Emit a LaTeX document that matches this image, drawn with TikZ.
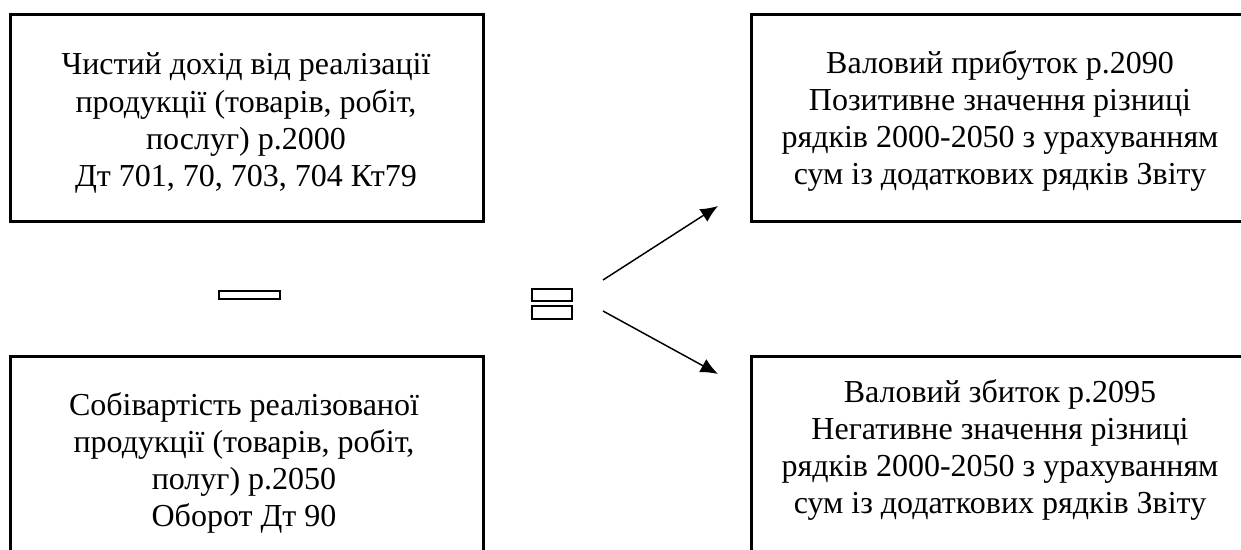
\documentclass[tikz,border=0pt]{standalone}
\usepackage{fontspec}
\setmainfont{Liberation Serif}
\usetikzlibrary{arrows.meta}
\tikzset{
  frame/.style={draw, line width=1.1pt, anchor=north west, inner sep=0pt},
  txt/.style={align=center, inner sep=0pt, font=\fontsize{12}{13.9}\selectfont},
  sign/.style={draw, line width=1pt, inner sep=0pt},
  fork/.style={-{Latex[length=6.5pt,width=5.6pt]}, line width=0.55pt}
}
\begin{document}
\begin{tikzpicture}[x=0.375pt,y=-0.375pt]
\useasboundingbox (0,0) rectangle (1241,550);
\clip (0,0) rectangle (1241,550);

\node [frame, minimum width=177.4pt, minimum height=77.6pt] (revbox) at (9,13) {};
\node [frame, minimum width=177.4pt, minimum height=77.6pt] (costbox) at (9,355) {};
\node [frame, minimum width=187.5pt, minimum height=77.6pt] (gainbox) at (750,13) {};
\node [frame, minimum width=187.5pt, minimum height=77.6pt] (lossbox) at (750,355) {};

\node [txt] (rev) at (246,123) {Чистий дохід від реалізації\\продукції (товарів, робіт,\\послуг) р.2000\\Дт 701, 70, 703, 704 Кт79};
\node [txt] (cost) at (244,463) {Собівартість реалізованої\\продукції (товарів, робіт,\\полуг) р.2050\\Оборот Дт 90};
\node [txt] (gain) at (1000,121) {Валовий прибуток р.2090\\Позитивне значення різниці\\рядків 2000-2050 з урахуванням\\сум із додаткових рядків Звіту};
\node [txt] (loss) at (1000,450) {Валовий збиток р.2095\\Негативне значення різниці\\рядків 2000-2050 з урахуванням\\сум із додаткових рядків Звіту};

\node [sign, minimum width=22.9pt, minimum height=3pt] (minus) at (249.5,295) {};
\node [sign, minimum width=15pt, minimum height=4.5pt] (eqtop) at (552,295) {};
\node [sign, minimum width=15pt, minimum height=4.9pt] (eqbot) at (552,312.5) {};

\coordinate (upfrom) at (603,280);
\coordinate (upto) at (718,206);
\coordinate (downfrom) at (603,311);
\coordinate (downto) at (718,374);
\draw [fork] (upfrom) -- (upto);
\draw [fork] (downfrom) -- (downto);
\end{tikzpicture}
\end{document}
